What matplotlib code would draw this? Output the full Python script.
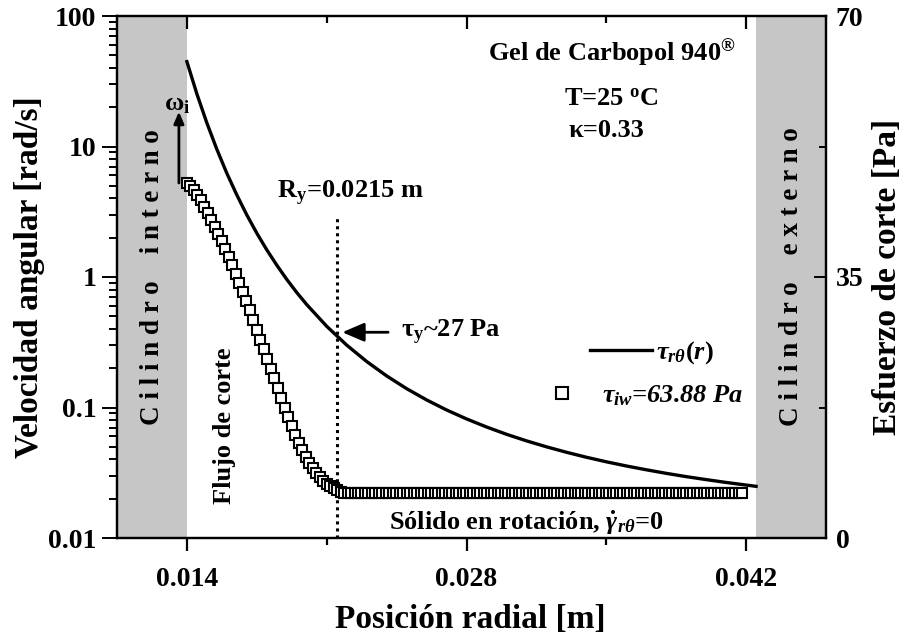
import numpy as np
import matplotlib
matplotlib.use("Agg")
import matplotlib.pyplot as plt
from matplotlib.lines import Line2D, TICKDOWN
from matplotlib.ticker import FixedLocator, LogLocator, NullFormatter, FuncFormatter

# ---- data -------------------------------------------------------------
# angular velocity profile: radial grid of the measured points
r_grid = np.linspace(0.014, 0.0418, 160)
# omega [rad/s] in the sheared zone (first points of r_grid)
omega_shear = [5.25, 4.98, 4.64, 4.25, 3.89, 3.44, 3.09, 2.73, 2.42, 2.14,
               1.89, 1.64, 1.42, 1.24, 1.05, 0.90, 0.768, 0.655, 0.559, 0.468,
               0.393, 0.329, 0.281, 0.235, 0.197, 0.168, 0.141, 0.118, 0.0991,
               0.0846, 0.0722, 0.0616, 0.0535, 0.0472, 0.0418, 0.0376, 0.0344,
               0.0315, 0.0293, 0.0273, 0.0259, 0.0250, 0.0240, 0.0232, 0.0226]
# omega [rad/s] of the plug (solid-body rotation) zone
omega_plug = 0.0222
omega = np.concatenate([omega_shear,
                        np.full(len(r_grid) - len(omega_shear), omega_plug)])

# shear stress profile tau_r_theta(r) [Pa]
r_tau = [0.0140, 0.0145, 0.0150, 0.0155, 0.0160, 0.0165, 0.0170, 0.0175,
         0.0180, 0.0185, 0.0190, 0.0195, 0.0200, 0.0210, 0.0220, 0.0230,
         0.0240, 0.0250, 0.0260, 0.0270, 0.0280, 0.0290, 0.0300, 0.0310,
         0.0320, 0.0330, 0.0340, 0.0350, 0.0360, 0.0370, 0.0380, 0.0390,
         0.0400, 0.0410, 0.0420, 0.0425]
tau = [63.88, 59.55, 55.65, 52.12, 48.91, 46.00, 43.32, 40.88,
       38.64, 36.59, 34.68, 32.92, 31.30, 28.39, 25.87, 23.67,
       21.74, 20.03, 18.52, 17.17, 15.97, 14.89, 13.91, 13.03,
       12.23, 11.50, 10.83, 10.22, 9.66, 9.15, 8.67, 8.23,
       7.83, 7.45, 7.10, 6.93]

r_inner = 0.014
r_outer = 0.0425
r_yield = 0.0215
tau_yield = 27.09
x_ticks = [0.014, 0.028, 0.042]
x_labels = ['0.014', '0.028', '0.042']
x_minor = [0.021, 0.035]
y_labels = {0.01: '0.01', 0.1: '0.1', 1: '1', 10: '10', 100: '100'}
y2_ticks = [0, 35, 70]
y2_minor = [17.5, 52.5]

# ---- style -------------------------------------------------------------
plt.rcParams['font.family'] = ['Liberation Serif', 'DejaVu Serif']
plt.rcParams['font.weight'] = 'bold'
plt.rcParams['mathtext.fontset'] = 'custom'
plt.rcParams['mathtext.rm'] = 'Liberation Serif:bold'
plt.rcParams['mathtext.bf'] = 'Liberation Serif:bold'
plt.rcParams['mathtext.it'] = 'Liberation Serif:italic:bold'
plt.rcParams['axes.linewidth'] = 1.6

FS_TICK = 20
FS_TXT = 19
FS_BAND = 19.5
FS_LAB = 24
GRAY = '#c6c6c6'

fig = plt.figure(figsize=(9.1, 6.4), dpi=100)
ax = fig.add_axes([117 / 910, 1 - 538 / 640, 709 / 910, 522 / 640])
ax2 = ax.twinx()

ax.set_xlim(0.0105, 0.046)
ax.set_yscale('log')
ax.set_ylim(0.01, 100)
ax2.set_ylim(0, 70)

# cylinder walls
ax.axvspan(ax.get_xlim()[0], r_inner, color=GRAY, lw=0, zorder=0)
ax.axvspan(r_outer, ax.get_xlim()[1], color=GRAY, lw=0, zorder=0)

# angular velocity
ax.plot(r_grid, omega, ls='none', marker='s', ms=7.4, mfc='white',
        mec='black', mew=1.5, zorder=3)

# yield radius
ax.axvline(r_yield, ymax=0.615, color='black', ls=(0, (1, 1.3)), lw=2.2, zorder=2)

# shear stress
ax2.plot(r_tau, tau, color='black', lw=2.4, zorder=3)

# ---- ticks -------------------------------------------------------------
ax.xaxis.set_major_locator(FixedLocator(x_ticks))
ax.xaxis.set_minor_locator(FixedLocator(x_minor))
ax.set_xticklabels(x_labels)
ax.yaxis.set_major_locator(LogLocator(base=10, numticks=10))
ax.yaxis.set_minor_locator(LogLocator(base=10, subs=np.arange(2, 10), numticks=10))
ax.yaxis.set_minor_formatter(NullFormatter())
ax.yaxis.set_major_formatter(FuncFormatter(lambda v, p: y_labels.get(round(v, 4), '')))
ax.tick_params(axis='x', which='both', direction='out', top=True, width=1.6,
               labelsize=FS_TICK, pad=12)
ax.tick_params(axis='x', which='major', length=9)
ax.tick_params(axis='x', which='minor', length=5)
ax.tick_params(axis='y', which='both', direction='out', right=False, width=1.4,
               labelsize=FS_TICK, pad=4)
ax.tick_params(axis='y', which='major', length=11)
ax.tick_params(axis='y', which='minor', length=6)

ax2.yaxis.set_major_locator(FixedLocator(y2_ticks))
ax2.yaxis.set_minor_locator(FixedLocator(y2_minor))
ax2.tick_params(axis='y', which='both', direction='in', width=1.4,
                labelsize=FS_TICK, pad=7)
ax2.tick_params(axis='y', which='major', length=9)
ax2.tick_params(axis='y', which='minor', length=5)

# top ticks point inward
for t in ax.xaxis.get_major_ticks() + ax.xaxis.get_minor_ticks():
    t.tick2line.set_marker(TICKDOWN)

# ---- axis labels -------------------------------------------------------
ax.set_xlabel('Posición radial [m]', fontsize=FS_LAB, fontweight='bold')
ax.xaxis.set_label_coords((470 - 117) / 709, (538 - 620) / 522)
ax.xaxis.label.set_va('center')
ax.set_ylabel('Velocidad angular [rad/s]', fontsize=FS_LAB, fontweight='bold')
ax.yaxis.set_label_coords((30 - 117) / 709, 0.5)
ax.yaxis.label.set_va('center')
ax2.set_ylabel('Esfuerzo de corte [Pa]', fontsize=FS_LAB, fontweight='bold')
ax2.yaxis.set_label_coords((887 - 117) / 709, 0.5)
ax2.yaxis.label.set_va('center')

# ---- annotations -------------------------------------------------------
ax.text(0.0123, 1.0, 'C i l i n d r o    i n t e r n o', rotation=90,
        ha='center', va='center', fontsize=FS_BAND, zorder=4)
ax.text(0.04425, 1.0, 'C i l i n d r o    e x t e r n o', rotation=90,
        ha='center', va='center', fontsize=FS_BAND, zorder=4)

ax.text(0.698, 0.929, 'Gel de Carbopol 940$^{\\mathrm{®}}$', transform=ax.transAxes,
        ha='center', va='center', fontsize=FS_TXT)
ax.text(0.697, 0.841, 'T=25 $^{\\mathrm{o}}$C', transform=ax.transAxes,
        ha='center', va='center', fontsize=FS_TXT)
ax.text(0.690, 0.780, 'κ=0.33', transform=ax.transAxes,
        ha='center', va='center', fontsize=FS_TXT)

ax.text(0.01852, 4.03, 'R$_{\\mathrm{y}}$=0.0215 m', ha='left', va='baseline',
        fontsize=FS_TXT)

ax2.annotate('$\\mathrm{τ}_{\\mathrm{y}}$~27 Pa', xy=(0.02178, tau_yield + 0.5),
             xytext=(0.0247, tau_yield + 0.5), ha='left', va='center',
             fontsize=FS_TXT,
             arrowprops=dict(arrowstyle='-|>,head_length=0.7,head_width=0.3',
                             lw=2, color='black', shrinkA=7, shrinkB=0))

ax.annotate('', xy=(0.0136, 18.5), xytext=(0.0136, omega_shear[0]),
            arrowprops=dict(arrowstyle='-|>,head_length=0.7,head_width=0.3',
                            lw=2, color='black', shrinkA=0, shrinkB=0))
ax.text(0.0135, 20.8, '$\\mathrm{ω}_{\\mathrm{i}}$', ha='center', va='center',
        fontsize=FS_TXT)

ax.text(0.0159, 0.0722, 'Flujo de corte', rotation=90, ha='center', va='center',
        fontsize=FS_TXT)
ax.text(0.0310, 0.0115, 'Sólido en rotación, $\\dot{γ}_{rθ}$=0', ha='center',
        va='baseline', fontsize=FS_TXT)

# ---- legend ------------------------------------------------------------
leg1 = ax2.legend([Line2D([], [], color='black', lw=2.4)], ['$τ_{rθ}(r)$'],
                  loc='center left', bbox_to_anchor=((590 - 117) / 709, (538 - 353) / 522),
                  frameon=False, borderpad=0, borderaxespad=0, handlelength=2.35,
                  handletextpad=0.15, prop=dict(size=FS_TXT, style='italic', weight='bold'))
ax2.add_artist(leg1)
ax2.legend([Line2D([], [], ls='none', marker='s', ms=8, mfc='white', mec='black', mew=1.5)],
           ['$τ_{iw}$=63.88 Pa'], loc='center left',
           bbox_to_anchor=((549 - 117) / 709, (538 - 396) / 522),
           frameon=False, borderpad=0, borderaxespad=0, handlelength=1.0,
           handletextpad=1.0, prop=dict(size=FS_TXT, style='italic', weight='bold'))

fig.savefig('out.png', dpi=100)
